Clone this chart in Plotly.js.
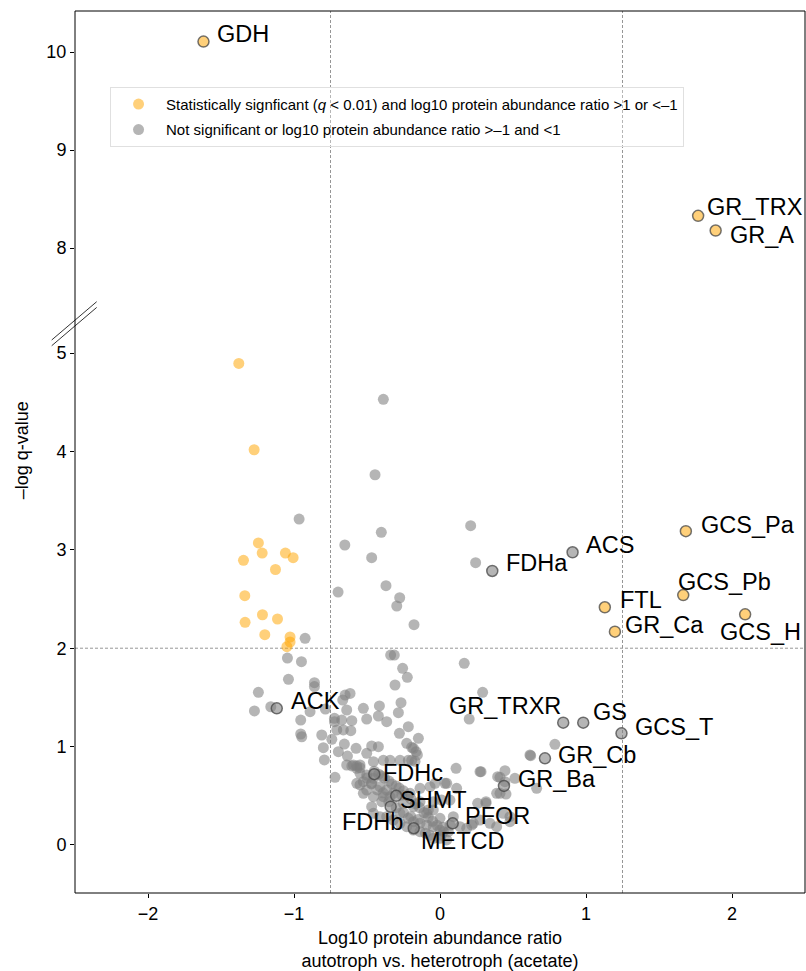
<!DOCTYPE html>
<html>
<head>
<meta charset="utf-8">
<script src="https://cdn.plot.ly/plotly-3.0.1.min.js"></script>
<style>html,body{margin:0;padding:0;background:#fff;}#chart{width:806px;height:971px;}</style>
</head>
<body>
<div id="chart"></div>
<script>
// ---------- data ----------
const legendSig = 'Statistically signficant (<i>q</i> &lt; 0.01) and log10 protein abundance ratio &gt;1 or &lt;–1';
const legendNs = 'Not significant or log10 protein abundance ratio &gt;–1 and &lt;1';

const xTickVals = [-2, -1, 0, 1, 2];
const yTickLow = [0, 1, 2, 3, 4, 5];
const yTickHigh = [8, 9, 10];

// significant (orange), unlabeled
const sigX = [-1.378, -1.273, -1.244, -1.218, -1.346, -1.059, -1.006, -1.127, -1.337, -1.216, -1.113, -1.335, -1.200, -1.027, -1.027, -1.049];
const sigY = [4.895, 4.017, 3.070, 2.967, 2.893, 2.967, 2.920, 2.800, 2.534, 2.340, 2.297, 2.263, 2.137, 2.114, 2.063, 2.015];

// not significant (gray), unlabeled
const nsX = [-0.388, -0.445, -0.965, -0.402, -0.652, -0.468, -0.370, -0.698, -0.276, -0.296, -0.178, -0.924, 0.210, 0.244,
  -1.045, -0.949, -0.338, -0.313, -0.256, -0.224, -0.308, 0.166, 0.292, 0.200,
  -1.038, -1.244, -0.860, -0.860, -1.159, -1.271, -0.890, -0.785, -0.954, -0.723, -0.723, -0.650, -0.616, -0.666, -0.639, -0.525, -0.415, -0.502, -0.422, -0.365, -0.673, -0.604, -0.662, -0.707, -0.611, -0.947, -0.954, -0.810, -0.741, -0.799, -0.792, -0.719, -0.696, -0.655, -0.634, -0.575, -0.502, -0.468, -0.422, -0.604, -0.570, -0.548,
  -0.267, -0.285, -0.278, -0.217, -0.148, -0.228, -0.182, -0.155, -0.194, -0.164,
  -0.388, -0.342, -0.274, -0.217, -0.194, -0.171, -0.456, -0.593, -0.548, -0.570, -0.639,
  0.110, 0.281, 0.046, 0.114, 0.034,
  -0.548, -0.502, -0.456, -0.525, -0.468, -0.411, -0.365, -0.320, -0.262, -0.205, -0.137, -0.068, -0.034, -0.525, -0.468, -0.399,
  -0.570, -0.548, -0.502, -0.456, -0.388, -0.342, -0.251, -0.182, -0.137, -0.080, -0.046, -0.274,
  -0.217, -0.182, -0.137, -0.091, -0.046, 0.000, 0.057, 0.137, 0.183, 0.228, 0.274, 0.342, 0.388,
  -0.456, -0.411, -0.365, -0.320, -0.274, -0.228, -0.182, -0.137, -0.046, 0.000, 0.046,
  0.258, 0.315, 0.411, 0.445, 0.395, 0.479, 0.616, 0.787, 0.621, 0.662, 0.411, 0.445, 0.388, 0.452, 0.513, 0.315, 0.274, 0.217, 0.479, 0.433, 0.011, 0.068, 0.091, 0.000, -0.046, -0.091, 0.023, 0.068,
  -0.450, -0.420, -0.400, -0.380, -0.350, -0.330, -0.300, -0.280, -0.250, -0.220, -0.200, -0.170, -0.140, -0.110, -0.080, -0.050, -0.020, 0.020, -0.500, -0.470, -0.430, -0.390, -0.350, -0.300, -0.250, -0.200, -0.150, -0.100, -0.070, 0.010];
const nsY = [4.530, 3.763, 3.313, 3.178, 3.049, 2.920, 2.635, 2.571, 2.513, 2.429, 2.239, 2.100, 3.245, 2.869,
  1.900, 1.863, 1.930, 1.930, 1.796, 1.704, 1.626, 1.846, 1.552, 1.280,
  1.684, 1.552, 1.650, 1.610, 1.405, 1.362, 1.355, 1.382, 1.270, 1.287, 1.253, 1.524, 1.540, 1.473, 1.372, 1.389, 1.413, 1.280, 1.311, 1.253, 1.270, 1.263, 1.169, 1.169, 1.162, 1.100, 1.128, 1.118, 1.074, 0.989, 0.864, 0.688, 0.948, 1.026, 0.904, 0.983, 0.932, 1.006, 0.999, 0.803, 0.803, 0.786,
  1.446, 1.345, 1.135, 1.202, 1.084, 1.033, 0.983, 0.915, 0.993, 0.948,
  0.860, 0.860, 0.860, 0.860, 0.860, 0.850, 0.847, 0.813, 0.813, 0.779, 0.813,
  0.779, 0.745, 0.627, 0.576, 0.627,
  0.729, 0.711, 0.678, 0.643, 0.627, 0.593, 0.559, 0.525, 0.508, 0.525, 0.576, 0.593, 0.627, 0.525, 0.389, 0.440,
  0.627, 0.610, 0.559, 0.491, 0.491, 0.491, 0.424, 0.389, 0.440, 0.356, 0.440, 0.322,
  0.271, 0.237, 0.220, 0.203, 0.186, 0.152, 0.135, 0.186, 0.169, 0.220, 0.254, 0.220, 0.186,
  0.322, 0.288, 0.288, 0.254, 0.220, 0.186, 0.152, 0.135, 0.068, 0.068, 0.051,
  0.424, 0.440, 0.525, 0.643, 0.694, 0.288, 0.915, 1.023, 0.908, 0.576, 0.688, 0.755, 0.525, 0.518, 0.678, 0.424, 0.745, 0.203, 0.237, 0.322, 0.457, 0.457, 0.288, 0.271, 0.356, 0.322, 0.135, 0.203,
  0.750, 0.720, 0.700, 0.680, 0.650, 0.620, 0.600, 0.580, 0.550, 0.500, 0.470, 0.420, 0.380, 0.330, 0.280, 0.240, 0.200, 0.180, 0.680, 0.620, 0.560, 0.530, 0.440, 0.380, 0.330, 0.290, 0.260, 0.120, 0.100, 0.100];

// labeled proteins
const labNames = ['GDH', 'GR_TRX', 'GR_A', 'GCS_Pa', 'GCS_Pb', 'FTL', 'GCS_H', 'GR_Ca',
  'ACK', 'ACS', 'FDHa', 'GR_TRXR', 'GS', 'GCS_T', 'GR_Cb', 'GR_Ba', 'PFOR', 'METCD', 'SHMT', 'FDHc', 'FDHb'];
const labX = [-1.620, 1.768, 1.888, 1.684, 1.666, 1.129, 2.090, 1.198,
  -1.118, 0.908, 0.358, 0.844, 0.981, 1.243, 0.719, 0.438, 0.087, -0.180, -0.300, -0.450, -0.338];
const labY = [10.108, 8.330, 8.180, 3.190, 2.540, 2.416, 2.344, 2.168,
  1.389, 2.975, 2.785, 1.243, 1.243, 1.135, 0.881, 0.600, 0.220, 0.170, 0.500, 0.720, 0.389];
const labSig = [true, true, true, true, true, true, true, true,
  false, false, false, false, false, false, false, false, false, false, false, false, false];

// ---------- label placement (pixel offsets from the point) ----------
const labelPlace = {
  GDH: [12, 8, 'left'], GR_TRX: [7, 9, 'left'], GR_A: [12, -4, 'left'], GCS_Pa: [13, 6, 'left'],
  GCS_Pb: [-7, 13, 'left'], FTL: [13, 7, 'left'], GCS_H: [-27, -18, 'left'], GR_Ca: [8, 7, 'left'],
  ACK: [12, 7, 'left'], ACS: [11, 7, 'left'], FDHa: [12, 8, 'left'], GR_TRXR: [0, 17, 'right'],
  GS: [8, 11, 'left'], GCS_T: [12, 6, 'left'], GR_Cb: [11, 3, 'left'], GR_Ba: [12, 7, 'left'],
  PFOR: [10, 7, 'left'], METCD: [5, -13, 'left'], SHMT: [2, -4, 'left'], FDHc: [7, 1, 'left'], FDHb: [14, -15, 'right']
};

const BREAK_Y = 6; // values above this are drawn on the upper axis
const ORANGE = 'rgba(255,165,0,0.52)';
const GRAY = 'rgba(128,128,128,0.58)';
const EDGE = {color: 'rgba(70,70,70,0.75)', width: 1.5};
const MS = 11;

function pick(cond) {
  const xs = [], ys = [];
  labNames.forEach((n, i) => { if (cond(i)) { xs.push(labX[i]); ys.push(labY[i]); } });
  return {xs, ys};
}
const sigLow = pick(i => labSig[i] && labY[i] < BREAK_Y);
const sigHigh = pick(i => labSig[i] && labY[i] >= BREAK_Y);
const nsLab = pick(i => !labSig[i]);

const traces = [
  {type: 'scatter', mode: 'markers', x: sigX, y: sigY, xaxis: 'x', yaxis: 'y', name: legendSig,
   legendgroup: 'a', marker: {color: ORANGE, size: MS, line: {width: 0}}, hoverinfo: 'skip'},
  {type: 'scatter', mode: 'markers', x: nsX, y: nsY, xaxis: 'x', yaxis: 'y', name: legendNs,
   legendgroup: 'b', marker: {color: GRAY, size: MS, line: {width: 0}}, hoverinfo: 'skip'},
  {type: 'scatter', mode: 'markers', x: nsLab.xs, y: nsLab.ys, xaxis: 'x', yaxis: 'y', showlegend: false,
   marker: {color: GRAY, size: MS, line: EDGE}},
  {type: 'scatter', mode: 'markers', x: sigLow.xs, y: sigLow.ys, xaxis: 'x', yaxis: 'y', showlegend: false,
   marker: {color: ORANGE, size: MS, line: EDGE}},
  {type: 'scatter', mode: 'markers', x: sigHigh.xs, y: sigHigh.ys, xaxis: 'x', yaxis: 'y2', showlegend: false,
   marker: {color: ORANGE, size: MS, line: EDGE}}
];

const annotations = labNames.map((n, i) => {
  const p = labelPlace[n];
  return {
    x: labX[i], y: labY[i], xref: 'x', yref: labY[i] >= BREAK_Y ? 'y2' : 'y',
    text: n, showarrow: false, xanchor: p[2], yanchor: 'middle', xshift: p[0], yshift: p[1],
    font: {size: 23.5, color: '#000'}
  };
});
annotations.push({
  x: -0.0726, y: 0.502, xref: 'paper', yref: 'paper', text: '–log q-value', textangle: -90,
  showarrow: false, xanchor: 'center', yanchor: 'middle', font: {size: 18, color: '#000'}
});

const SPLIT = 0.6451;
const dashLine = {color: '#8a8a8a', width: 0.9, dash: '3px,2px'};
const shapes = [
  {type: 'line', xref: 'x', yref: 'paper', x0: -0.75, x1: -0.75, y0: 0, y1: 1, line: dashLine, layer: 'below'},
  {type: 'line', xref: 'x', yref: 'paper', x0: 1.25, x1: 1.25, y0: 0, y1: 1, line: dashLine, layer: 'below'},
  {type: 'line', xref: 'paper', yref: 'y', x0: 0, x1: 1, y0: 2, y1: 2, line: dashLine, layer: 'below'},
  {type: 'rect', xref: 'paper', yref: 'paper', x0: 0, x1: 1, y0: 0, y1: 1, line: {color: '#000', width: 1}},
  {type: 'line', xref: 'paper', yref: 'paper', x0: -0.0319, y0: 0.627, x1: 0.0297, y1: 0.6704, line: {color: '#000', width: 0.8}},
  {type: 'line', xref: 'paper', yref: 'paper', x0: -0.0319, y0: 0.6205, x1: 0.0297, y1: 0.6639, line: {color: '#000', width: 0.8}}
];

const axisCommon = {showgrid: false, zeroline: false, showline: false, ticks: 'outside', ticklen: 4,
  tickwidth: 1, tickcolor: '#000', tickfont: {size: 18, color: '#000'}};

const layout = {
  width: 806, height: 971,
  margin: {l: 75, r: 1, t: 11, b: 78},
  paper_bgcolor: '#fff', plot_bgcolor: '#fff',
  font: {family: 'Arial, "Liberation Sans", Helvetica, sans-serif', color: '#000'},
  showlegend: true,
  legend: {x: 0.048, y: 0.914, xanchor: 'left', yanchor: 'top', bgcolor: 'rgba(255,255,255,0.3)',
    bordercolor: '#e0e0e0', borderwidth: 1, font: {size: 15, color: '#000'}, itemwidth: 45,
    tracegroupgap: 3, traceorder: 'grouped'},
  xaxis: Object.assign({}, axisCommon, {range: [-2.5, 2.5], domain: [0, 1], anchor: 'y',
    tickvals: xTickVals, title: {text: 'Log10 protein abundance ratio<br>autotroph vs. heterotroph (acetate)',
    font: {size: 18, color: '#000'}, standoff: 13}}),
  yaxis: Object.assign({}, axisCommon, {range: [-0.488, 5.295], domain: [0, SPLIT], anchor: 'x',
    tickvals: yTickLow}),
  yaxis2: Object.assign({}, axisCommon, {range: [7.226, 10.42], domain: [SPLIT, 1], anchor: 'x',
    tickvals: yTickHigh}),
  annotations: annotations,
  shapes: shapes
};

Plotly.newPlot('chart', traces, layout, {displayModeBar: false, staticPlot: true});
</script>
</body>
</html>
